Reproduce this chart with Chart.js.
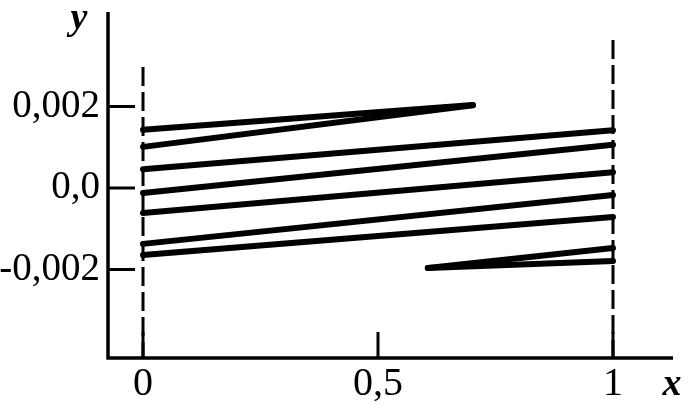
<!DOCTYPE html>
<html>
<head>
<meta charset="utf-8">
<script src="https://cdn.jsdelivr.net/npm/chart.js@4.4.1/dist/chart.umd.min.js"></script>
<style>
  html, body { margin: 0; padding: 0; background: #ffffff; }
  #wrap { width: 689px; height: 404px; }
</style>
</head>
<body>
<div id="wrap"><canvas id="c" width="689" height="404"></canvas></div>
<script>
// ---- data ----
const xTickValues = [0, 0.5, 1];
const xTickLabels = ['0', '0,5', '1'];
const yTickValues = [-0.002, 0, 0.002];
const yTickLabels = ['-0,002', '0,0', '0,002'];

// solid segments (start -> end)
const segStartX = [0, 0, 0, 0, 0, 0, 0, 0.606, 0.606];
const segStartY = [0.00143, 0.00101, 0.00046, -0.00012, -0.00061, -0.00137, -0.00164, -0.00196, -0.00196];
const segEndX   = [0.702, 0.702, 1, 1, 1, 1, 1, 1, 1];
const segEndY   = [0.00204, 0.00203, 0.00142, 0.00106, 0.00039, -0.00017, -0.00071, -0.00147, -0.00179];

// dashed verticals
const dashX    = [0, 1];
const dashTopY = [0.00297, 0.00363];

const xMin = -0.0745, xMax = 1.1277;
const yMin = -0.00417, yMax = 0.00432;

const datasets = [];
for (let i = 0; i < segStartX.length; i++) {
  datasets.push({
    data: [{x: segStartX[i], y: segStartY[i]}, {x: segEndX[i], y: segEndY[i]}],
    showLine: true, borderColor: '#000', borderWidth: 6, pointRadius: 0,
    borderCapStyle: 'round', fill: false
  });
}
for (let i = 0; i < dashX.length; i++) {
  datasets.push({
    data: [{x: dashX[i], y: dashTopY[i]}, {x: dashX[i], y: yMin}],
    showLine: true, borderColor: '#000', borderWidth: 3, pointRadius: 0,
    borderDash: [19, 6], fill: false
  });
}

const axisExtras = {
  id: 'axisExtras',
  afterDatasetsDraw(chart) {
    const ctx = chart.ctx, xs = chart.scales.x, ys = chart.scales.y;
    const left = xs.left, bottom = ys.bottom;
    ctx.save();
    ctx.strokeStyle = '#000';
    ctx.lineWidth = 3;
    ctx.beginPath();
    yTickValues.forEach(v => {
      const py = ys.getPixelForValue(v);
      ctx.moveTo(left, py); ctx.lineTo(left + 27, py);
    });
    xTickValues.forEach(v => {
      const px = xs.getPixelForValue(v);
      ctx.moveTo(px, bottom); ctx.lineTo(px, bottom - 26);
    });
    ctx.stroke();
    // axis lines
    ctx.lineWidth = 3.5;
    ctx.beginPath();
    ctx.moveTo(left, ys.top);
    ctx.lineTo(left, bottom);
    ctx.lineTo(xs.right, bottom);
    ctx.stroke();
    // axis names
    ctx.fillStyle = '#000';
    ctx.font = 'italic bold 38px "Liberation Serif", serif';
    ctx.textAlign = 'center';
    ctx.textBaseline = 'alphabetic';
    ctx.fillText('y', 79, 29);
    ctx.fillText('x', 672, 395);
    ctx.restore();
  }
};

new Chart(document.getElementById('c'), {
  type: 'scatter',
  data: { datasets },
  options: {
    responsive: false,
    animation: false,
    layout: { padding: { top: 12, right: 16, left: 0, bottom: 0 } },
    plugins: { legend: { display: false }, tooltip: { enabled: false } },
    scales: {
      x: {
        type: 'linear', min: xMin, max: xMax,
        grid: { display: false, drawTicks: false },
        border: { display: false },
        afterBuildTicks: s => { s.ticks = xTickValues.map(v => ({value: v})); },
        afterFit: s => { s.height = 46; s.paddingLeft = 0; s.paddingRight = 0; },
        ticks: {
          autoSkip: false, maxRotation: 0, padding: 4, color: '#000',
          font: { family: '"Liberation Serif", serif', size: 40, lineHeight: 1.1 },
          callback: (v) => xTickLabels[xTickValues.indexOf(v)] ?? ''
        }
      },
      y: {
        type: 'linear', min: yMin, max: yMax,
        grid: { display: false, drawTicks: false },
        border: { display: false },
        afterBuildTicks: s => { s.ticks = yTickValues.map(v => ({value: v})); },
        afterFit: s => { s.width = 108; s.paddingTop = 0; s.paddingBottom = 0; },
        ticks: {
          autoSkip: false, padding: 8, color: '#000',
          font: { family: '"Liberation Serif", serif', size: 39 },
          callback: (v) => {
            const i = yTickValues.findIndex(t => Math.abs(t - v) < 1e-9);
            return i >= 0 ? yTickLabels[i] : '';
          }
        }
      }
    }
  },
  plugins: [axisExtras]
});
</script>
</body>
</html>
